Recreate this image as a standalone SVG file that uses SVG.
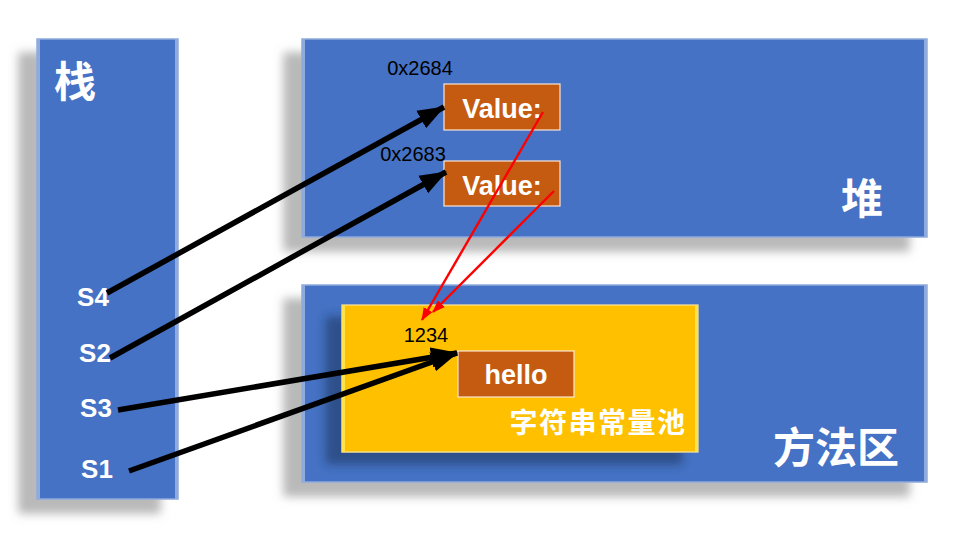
<svg xmlns="http://www.w3.org/2000/svg" width="976" height="550" viewBox="0 0 976 550">
<style>
.panel{fill:#4472C4;stroke:#8FAADC;stroke-width:1.5}
.bev{fill:#8FAADC}
.title{font-family:"Noto Sans CJK SC","Noto Sans CJK JP",sans-serif;font-weight:bold;fill:#FFFFFF}
.sl{font-family:"Liberation Sans",Arial,sans-serif;font-weight:bold;font-size:26px;fill:#FFFFFF;text-anchor:middle}
.val{fill:#C55A11;stroke:#FBE5D6;stroke-width:1.2}
.vt{font-family:"Liberation Sans",Arial,sans-serif;font-weight:bold;font-size:27px;fill:#FFFFFF;text-anchor:middle}
.addr{font-family:"Liberation Sans",Arial,sans-serif;font-size:20px;fill:#000000;text-anchor:middle}
.blk{stroke:#000;stroke-width:5.5;fill:none}
.red{stroke:#FF0000;stroke-width:2.4;fill:none}
</style>
<defs>
<filter id="sh" x="-20%" y="-20%" width="140%" height="140%">
<feDropShadow dx="-18" dy="14" stdDeviation="5" flood-color="#808080" flood-opacity="0.55"/>
</filter>
<filter id="sh2" x="-20%" y="-20%" width="140%" height="140%">
<feDropShadow dx="-16" dy="12" stdDeviation="5" flood-color="#1F3864" flood-opacity="0.6"/>
</filter>
<marker id="ab" markerUnits="userSpaceOnUse" markerWidth="28" markerHeight="22" refX="26" refY="11" orient="auto">
<path d="M0,1 L27,11 L0,21 Z" fill="#000"/>
</marker>
<marker id="ar" markerUnits="userSpaceOnUse" markerWidth="14" markerHeight="12" refX="12" refY="6" orient="auto">
<path d="M0,1 L13,6 L0,11 Z" fill="#FF0000"/>
</marker>
</defs>

<g id="stack">
<rect class="panel" x="37" y="39" width="141" height="460" filter="url(#sh)"/>
<rect class="bev" x="37" y="39" width="3" height="460"/>
<rect class="bev" x="175" y="39" width="3" height="460"/>
<text class="title" x="75" y="97" font-size="42" text-anchor="middle">栈</text>
<text class="sl" x="93" y="306">S4</text>
<text class="sl" x="95" y="362">S2</text>
<text class="sl" x="96" y="417">S3</text>
<text class="sl" x="97" y="478">S1</text>
</g>

<g id="heap">
<rect class="panel" x="302" y="39" width="625" height="198" filter="url(#sh)"/>
<rect class="bev" x="302" y="39" width="3" height="198"/>
<rect class="bev" x="924" y="39" width="3" height="198"/>
<text class="title" x="862" y="214" font-size="42" text-anchor="middle">堆</text>
</g>

<g id="value1">
<rect class="val" x="444" y="84" width="116" height="46"/>
<text class="vt" x="502" y="118">Value:</text>
<text class="addr" x="420" y="75">0x2684</text>
</g>

<g id="value2">
<rect class="val" x="444" y="161" width="116" height="45"/>
<text class="vt" x="502" y="195">Value:</text>
<text class="addr" x="413" y="161">0x2683</text>
</g>

<g id="method">
<rect class="panel" x="302" y="285" width="625" height="197" filter="url(#sh)"/>
<rect class="bev" x="302" y="285" width="3" height="197"/>
<rect class="bev" x="924" y="285" width="3" height="197"/>
<text class="title" x="836" y="463" font-size="42" text-anchor="middle">方法区</text>
</g>

<g id="pool">
<rect x="342" y="305" width="356" height="147" fill="#FFC000" stroke="#FFE699" stroke-width="1.2" filter="url(#sh2)"/>
<rect x="342" y="305" width="3" height="147" fill="#FFE34D"/>
<rect x="695" y="305" width="3" height="147" fill="#FFE34D"/>
<text class="title" x="598" y="433" font-size="28" letter-spacing="1.5" text-anchor="middle">字符串常量池</text>
<text class="addr" x="426" y="342">1234</text>
</g>

<g id="hello">
<rect class="val" x="458" y="351" width="116" height="46"/>
<text class="vt" x="516" y="384">hello</text>
</g>

<g id="connectors">
<line class="blk" x1="107" y1="293" x2="444" y2="107" marker-end="url(#ab)"/>
<line class="blk" x1="110" y1="358" x2="446" y2="172" marker-end="url(#ab)"/>
<line class="blk" x1="118" y1="410" x2="457" y2="353" marker-end="url(#ab)"/>
<line class="blk" x1="129" y1="471" x2="457" y2="353" marker-end="url(#ab)"/>
<line class="red" x1="543" y1="112" x2="422" y2="320" marker-end="url(#ar)"/>
<line class="red" x1="554" y1="191" x2="433" y2="312" marker-end="url(#ar)"/>
</g>
</svg>
